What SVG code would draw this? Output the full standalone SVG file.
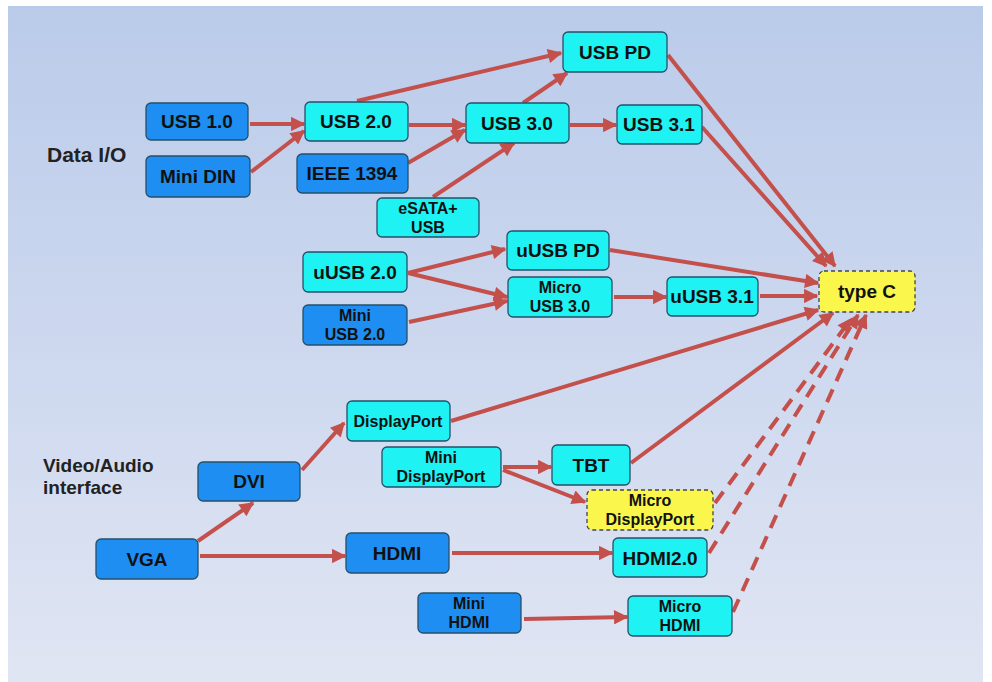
<svg xmlns="http://www.w3.org/2000/svg" width="992" height="682" viewBox="0 0 992 682">
<defs>
<linearGradient id="bg" x1="0" y1="0" x2="0" y2="1">
<stop offset="0" stop-color="#bacbea"/>
<stop offset="1" stop-color="#e0e5f3"/>
</linearGradient>
<marker id="ah" viewBox="0 0 10 10" refX="9" refY="5" markerWidth="4.4" markerHeight="3.6" orient="auto" markerUnits="strokeWidth">
<path d="M0,0 L10,5 L0,10 z" fill="#c4504c"/>
</marker>
<style>
.b{stroke:#24506a;stroke-width:1.3}
.cy{fill:#1ef2f2}
.bl{fill:#1e8ef2}
.ye{fill:#faf64c;stroke:#444;stroke-width:1.3;stroke-dasharray:4 3}
text{font-family:"Liberation Sans",Arial,sans-serif;font-weight:bold;fill:#111;text-anchor:middle}
.t{font-size:19px}
.s{font-size:16px}
.lab{font-size:19px;text-anchor:start;fill:#222}
.big{font-size:21px}
.c{stroke:#c4504c;stroke-width:4;fill:none;marker-end:url(#ah)}
.d{stroke-dasharray:14 9}
</style>
</defs>
<rect x="0" y="0" width="992" height="682" fill="#ffffff"/>
<rect x="8" y="6" width="975" height="676" fill="url(#bg)"/>
<text class="lab big" x="47" y="162">Data I/O</text>
<text class="lab" x="43" y="472">Video/Audio</text>
<text class="lab" x="43" y="494">interface</text>
<g id="connectors">
<line class="c" x1="250" y1="124" x2="304" y2="124"/>
<line class="c" x1="251" y1="172" x2="304" y2="131"/>
<line class="c" x1="409" y1="125" x2="465" y2="125"/>
<line class="c" x1="357" y1="101" x2="561" y2="53"/>
<line class="c" x1="408" y1="163" x2="465" y2="130"/>
<line class="c" x1="433" y1="197" x2="514" y2="143"/>
<line class="c" x1="523" y1="103" x2="567" y2="73"/>
<line class="c" x1="570" y1="125" x2="616" y2="125"/>
<line class="c" x1="668" y1="55" x2="835" y2="266"/>
<line class="c" x1="702" y1="127" x2="826" y2="266"/>
<line class="c" x1="408" y1="273" x2="505" y2="249"/>
<line class="c" x1="408" y1="273" x2="507" y2="297"/>
<line class="c" x1="409" y1="322" x2="507" y2="301"/>
<line class="c" x1="610" y1="250" x2="818" y2="283"/>
<line class="c" x1="614" y1="297" x2="666" y2="297"/>
<line class="c" x1="760" y1="296" x2="817" y2="296"/>
<line class="c" x1="451" y1="421" x2="818" y2="310"/>
<line class="c" x1="631" y1="463" x2="833" y2="313"/>
<line class="c" x1="503" y1="467" x2="551" y2="467"/>
<line class="c" x1="503" y1="470" x2="585" y2="502"/>
<line class="c d" x1="715" y1="503" x2="851" y2="319"/>
<line class="c d" x1="709" y1="553" x2="858" y2="315"/>
<line class="c d" x1="733" y1="612" x2="866" y2="315"/>
<line class="c" x1="302" y1="470" x2="344" y2="423"/>
<line class="c" x1="198" y1="541" x2="253" y2="503"/>
<line class="c" x1="200" y1="556" x2="345" y2="556"/>
<line class="c" x1="452" y1="553" x2="612" y2="553"/>
<line class="c" x1="524" y1="619" x2="627" y2="617"/>
</g>
<g id="usb10"><rect class="b bl" x="146" y="103" width="102" height="37" rx="5"/><text class="t" x="197" y="128">USB 1.0</text></g>
<g id="minidin"><rect class="b bl" x="146" y="156" width="104" height="41" rx="5"/><text class="t" x="198" y="183">Mini DIN</text></g>
<g id="usb20"><rect class="b cy" x="305" y="102" width="103" height="39" rx="5"/><text class="t" x="356" y="128">USB 2.0</text></g>
<g id="ieee1394"><rect class="b bl" x="297" y="154" width="111" height="39" rx="5"/><text class="t" x="352" y="180">IEEE 1394</text></g>
<g id="esata"><rect class="b cy" x="377" y="198" width="102" height="39" rx="5"/><text class="s" x="428" y="214">eSATA+</text><text class="s" x="428" y="233">USB</text></g>
<g id="usb30"><rect class="b cy" x="466" y="103" width="103" height="40" rx="5"/><text class="t" x="517" y="130">USB 3.0</text></g>
<g id="usbpd"><rect class="b cy" x="563" y="32" width="104" height="40" rx="5"/><text class="t" x="615" y="59">USB PD</text></g>
<g id="usb31"><rect class="b cy" x="617" y="105" width="85" height="39" rx="5"/><text class="t" x="659" y="131">USB 3.1</text></g>
<g id="uusbpd"><rect class="b cy" x="507" y="231" width="102" height="39" rx="5"/><text class="t" x="558" y="257">uUSB PD</text></g>
<g id="uusb20"><rect class="b cy" x="303" y="252" width="104" height="40" rx="5"/><text class="t" x="355" y="279">uUSB 2.0</text></g>
<g id="miniusb20"><rect class="b bl" x="303" y="305" width="104" height="40" rx="5"/><text class="s" x="355" y="321">Mini</text><text class="s" x="355" y="340">USB 2.0</text></g>
<g id="microusb30"><rect class="b cy" x="508" y="277" width="104" height="40" rx="5"/><text class="s" x="560" y="293">Micro</text><text class="s" x="560" y="312">USB 3.0</text></g>
<g id="uusb31"><rect class="b cy" x="667" y="277" width="91" height="39" rx="5"/><text class="t" x="712" y="303">uUSB 3.1</text></g>
<g id="typec"><rect class="ye" x="819" y="271" width="96" height="41" rx="5"/><text class="t" x="867" y="298">type C</text></g>
<g id="displayport"><rect class="b cy" x="347" y="401" width="103" height="40" rx="5"/><text class="s" x="398" y="427">DisplayPort</text></g>
<g id="minidisplayport"><rect class="b cy" x="382" y="447" width="119" height="40" rx="5"/><text class="s" x="441" y="463">Mini</text><text class="s" x="441" y="482">DisplayPort</text></g>
<g id="tbt"><rect class="b cy" x="552" y="445" width="78" height="40" rx="5"/><text class="t" x="591" y="472">TBT</text></g>
<g id="microdisplayport"><rect class="ye" x="587" y="490" width="126" height="40" rx="5"/><text class="s" x="650" y="506">Micro</text><text class="s" x="650" y="525">DisplayPort</text></g>
<g id="dvi"><rect class="b bl" x="198" y="462" width="102" height="39" rx="5"/><text class="t" x="249" y="488">DVI</text></g>
<g id="vga"><rect class="b bl" x="96" y="539" width="102" height="40" rx="5"/><text class="t" x="147" y="566">VGA</text></g>
<g id="hdmi"><rect class="b bl" x="346" y="533" width="103" height="40" rx="5"/><text class="t" x="397" y="560">HDMI</text></g>
<g id="hdmi20"><rect class="b cy" x="613" y="538" width="94" height="39" rx="5"/><text class="t" x="660" y="565">HDMI2.0</text></g>
<g id="minihdmi"><rect class="b bl" x="418" y="593" width="103" height="40" rx="5"/><text class="s" x="469" y="609">Mini</text><text class="s" x="469" y="628">HDMI</text></g>
<g id="microhdmi"><rect class="b cy" x="628" y="596" width="104" height="40" rx="5"/><text class="s" x="680" y="612">Micro</text><text class="s" x="680" y="631">HDMI</text></g>
</svg>
